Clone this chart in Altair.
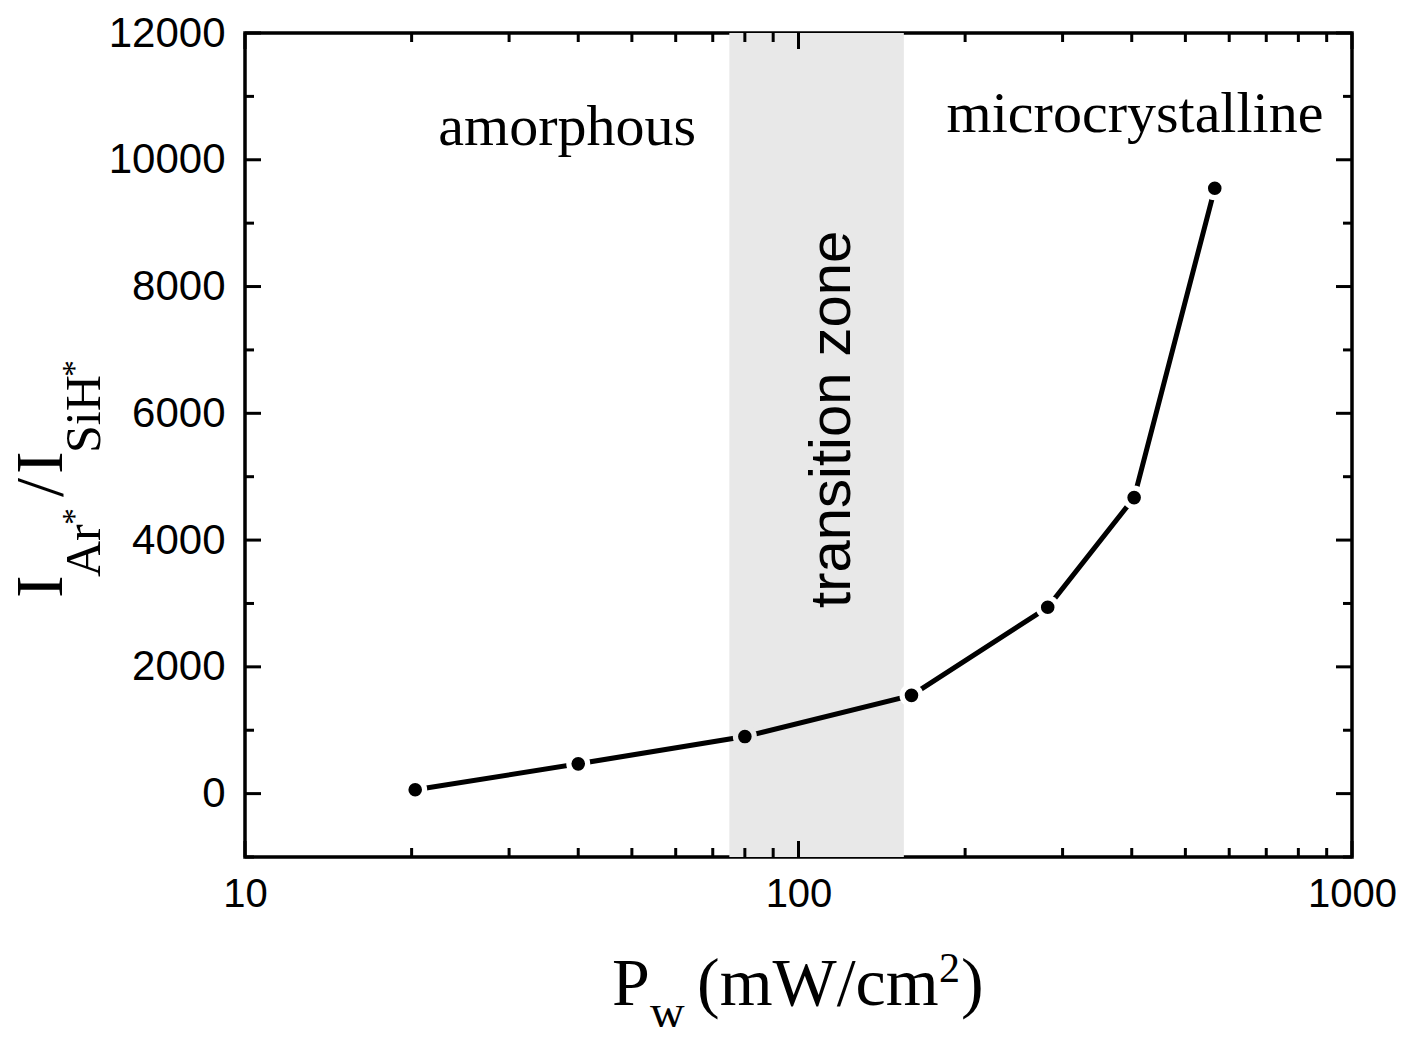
import altair as alt
import pandas as pd

# ---- data ----
power = [20.3, 40, 80, 160, 282, 404, 565]          # P_w (mW/cm2)
ratio = [60, 470, 900, 1550, 2940, 4670, 9550]      # I_Ar*/I_SiH*

zone_start = [75]
zone_end = [155]

x_major = [10, 100, 1000]
x_minor = [20, 30, 40, 50, 60, 70, 80, 90, 200, 300, 400, 500, 600, 700, 800, 900]
y_major = [0, 2000, 4000, 6000, 8000, 10000, 12000]
y_minor = [-1000, 1000, 3000, 5000, 7000, 9000, 11000]

ann_text = ["amorphous", "microcrystalline"]
ann_x = [38.2, 405.5]
ann_y = [10232, 10437]

zone_label = ["transition zone"]
zone_label_x = [123.9]
zone_label_y = [5905]

W, H = 1107, 824
xscale = alt.Scale(type="log", domain=[10, 1000], nice=False)
yscale = alt.Scale(domain=[-1000, 12000], nice=False, zero=False)

xaxis = alt.Axis(values=x_major, format="d", title=None, grid=False, ticks=False, tickSize=0,
                 domain=False, labelFont="Liberation Sans", labelFontSize=40,
                 labelColor="black", labelPadding=17, labelFlush=False)
yaxis = alt.Axis(values=y_major, format="d", title=None, grid=False, ticks=False, tickSize=0,
                 domain=False, labelFont="Liberation Sans", labelFontSize=42,
                 labelColor="black", labelPadding=20)

df = pd.DataFrame({"p": power, "r": ratio})
zone = pd.DataFrame({"a": zone_start, "b": zone_end})

band = alt.Chart(zone).mark_rect(color="#e8e8e8").encode(
    x=alt.X("a:Q", scale=xscale, axis=xaxis),
    x2="b:Q",
    y=alt.value(0),
    y2=alt.value(H),
)

layers = [band]

def yticks(vals, length, side):
    d = pd.DataFrame({"v": vals})
    if side == "left":
        xa, xb = 0, length
    else:
        xa, xb = W - length, W
    return alt.Chart(d).mark_rule(color="black", strokeWidth=3).encode(
        y=alt.Y("v:Q", scale=yscale, axis=yaxis),
        x=alt.value(xa), x2=alt.value(xb))

def xticks(vals, length, side):
    d = pd.DataFrame({"v": vals})
    if side == "bottom":
        ya, yb = H - length, H
    else:
        ya, yb = 0, length
    return alt.Chart(d).mark_rule(color="black", strokeWidth=3).encode(
        x=alt.X("v:Q", scale=xscale, axis=xaxis),
        y=alt.value(ya), y2=alt.value(yb))

for side in ["left", "right"]:
    layers.append(yticks(y_major, 16, side))
    layers.append(yticks(y_minor, 9, side))
for side in ["bottom", "top"]:
    layers.append(xticks(x_major, 16, side))
    layers.append(xticks(x_minor, 9, side))

line = alt.Chart(df).mark_line(color="black", strokeWidth=5).encode(
    x=alt.X("p:Q", scale=xscale, axis=xaxis),
    y=alt.Y("r:Q", scale=yscale, axis=yaxis),
)
# halo behind each marker (background colour) makes the gap in the line
halo = alt.Chart(df).mark_point(filled=True, shape="circle", size=576, opacity=1,
                                strokeWidth=0).encode(
    x=alt.X("p:Q", scale=xscale, axis=xaxis),
    y=alt.Y("r:Q", scale=yscale, axis=yaxis),
    fill=alt.condition(
        f"datum.p >= {zone_start[0]} && datum.p <= {zone_end[0]}",
        alt.value("#e8e8e8"), alt.value("white")),
)
pts = alt.Chart(df).mark_point(filled=True, shape="circle", size=185, fill="black",
                               opacity=1, strokeWidth=0).encode(
    x=alt.X("p:Q", scale=xscale, axis=xaxis),
    y=alt.Y("r:Q", scale=yscale, axis=yaxis),
)
layers += [line, halo, pts]

ann = pd.DataFrame({"t": ann_text, "x": ann_x, "y": ann_y})
layers.append(alt.Chart(ann).mark_text(font="Liberation Serif", fontSize=58, color="black",
                                       align="center", baseline="alphabetic").encode(
    x=alt.X("x:Q", scale=xscale, axis=xaxis),
    y=alt.Y("y:Q", scale=yscale, axis=yaxis),
    text="t:N"))

zl = pd.DataFrame({"t": zone_label, "x": zone_label_x, "y": zone_label_y})
layers.append(alt.Chart(zl).mark_text(font="Liberation Sans", fontSize=58, color="black",
                                      align="center", baseline="alphabetic", angle=270).encode(
    x=alt.X("x:Q", scale=xscale, axis=xaxis),
    y=alt.Y("y:Q", scale=yscale, axis=yaxis),
    text="t:N"))

# axis titles built from pieces (subscripts / superscripts)
def piece(txt, px, py, size, angle=0):
    d = pd.DataFrame({"t": [txt]})
    kw = dict(font="Liberation Serif", fontSize=size, color="black",
              align="left", baseline="alphabetic")
    if angle:
        kw["angle"] = angle
    return alt.Chart(d).mark_text(**kw).encode(
        x=alt.value(px), y=alt.value(py), text="t:N")

ytitle = [("I", -183, 565, 68), ("Ar", -145, 544, 50), ("*", -160, 492, 34),
          ("/", -183, 464, 68), ("I", -183, 441, 68), ("SiH", -145, 420, 50),
          ("*", -160, 344, 34)]
for t, px, py, s in ytitle:
    layers.append(piece(t, px, py, s, 270))

xtitle = [("P", 367, 972, 68), ("w", 405, 995, 48), ("(mW/cm", 452, 972, 68),
          ("2", 694, 949, 42), (")", 716, 972, 68)]
for t, px, py, s in xtitle:
    layers.append(piece(t, px, py, s))

chart = alt.layer(*layers).properties(
    width=W, height=H,
    background="white",
    autosize=alt.AutoSizeParams(type="none"),
    padding={"left": 237, "top": 25, "right": 44, "bottom": 170},
).configure_view(stroke="black", strokeWidth=3.5)

chart.save("out.html", embed_options={"renderer": "svg", "actions": False})
